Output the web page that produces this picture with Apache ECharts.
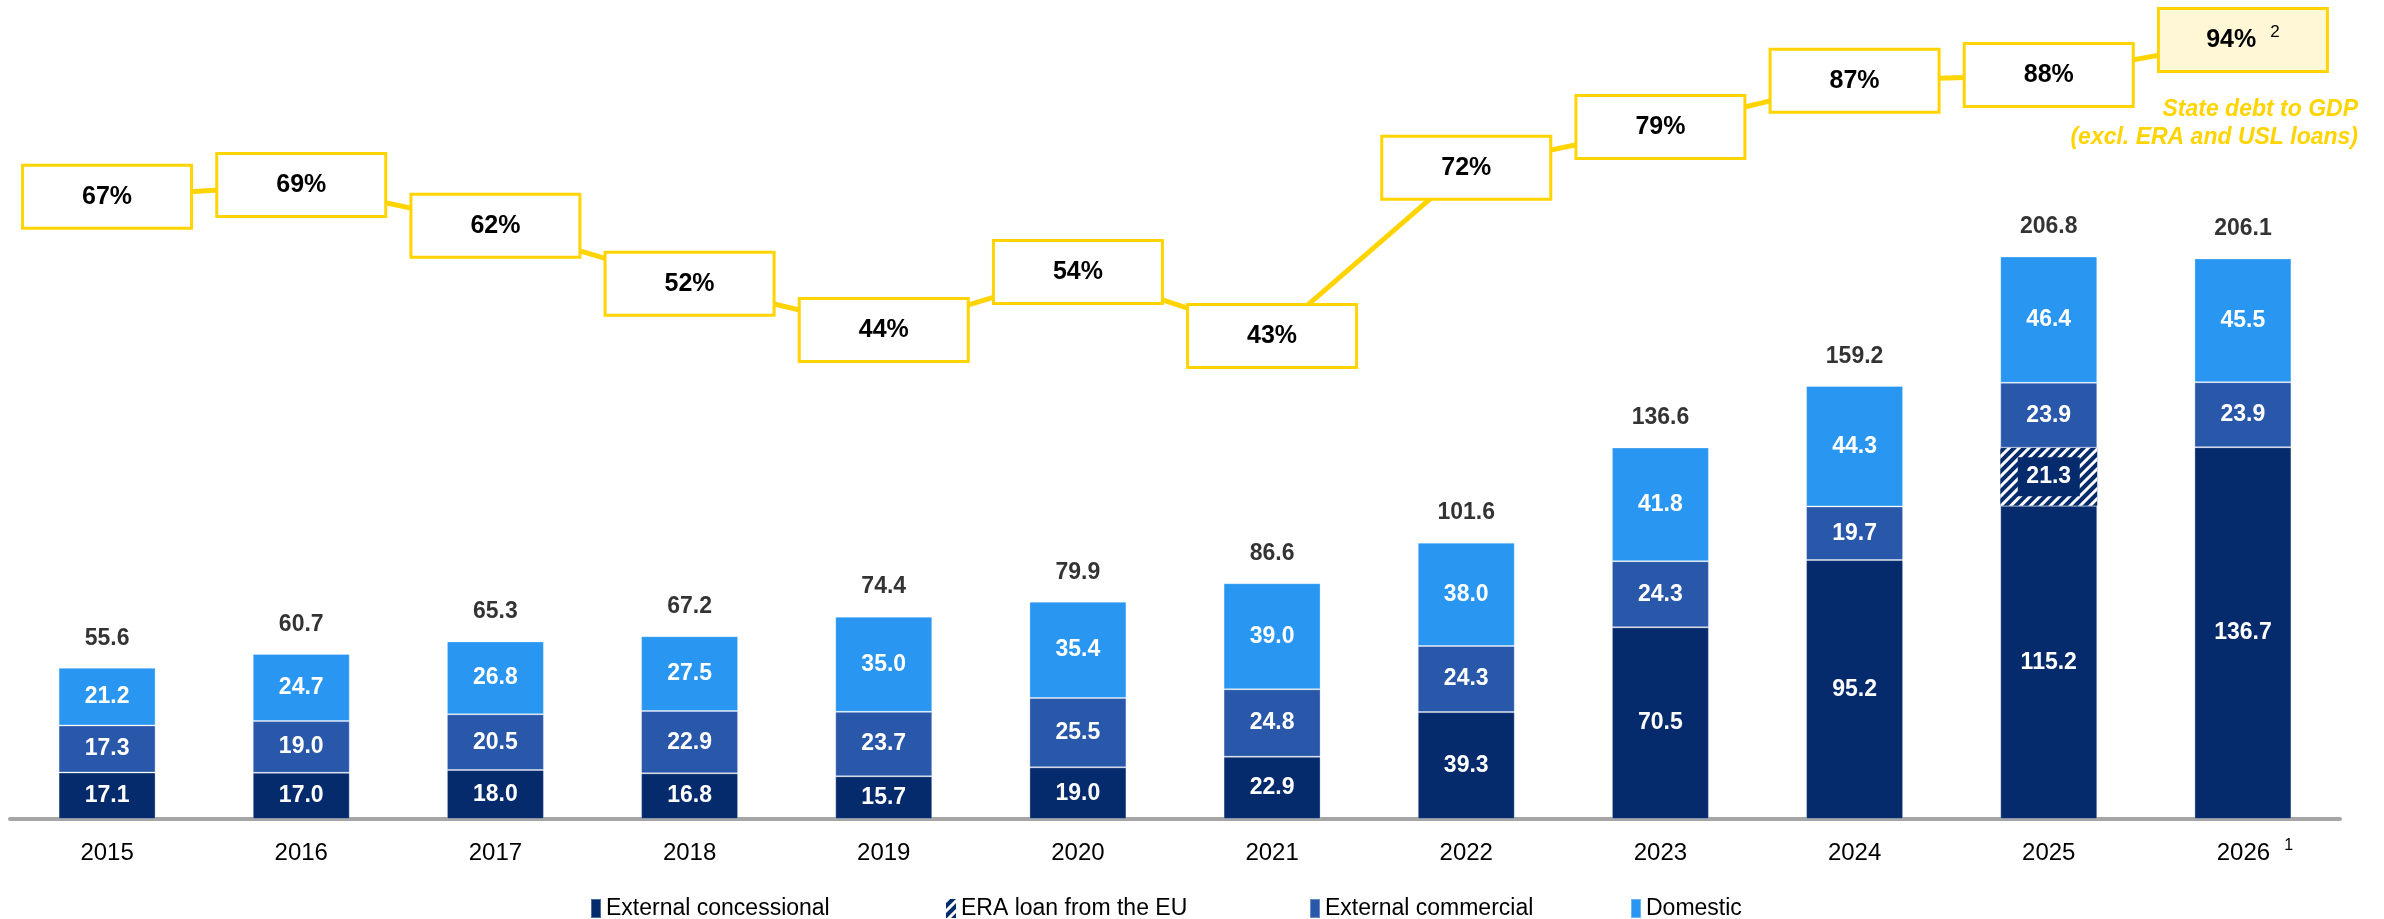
<!DOCTYPE html>
<html>
<head>
<meta charset="utf-8">
<script src="https://cdn.jsdelivr.net/npm/echarts@6/dist/echarts.min.js"></script>
<style>
  html, body { margin: 0; padding: 0; background: #ffffff; }
  #chart { width: 2384px; height: 919px; }
</style>
</head>
<body>
<div id="chart"></div>
<script>
// Public debt structure by year (values, bn) and state debt to GDP ratio (%)
const years = ['2015', '2016', '2017', '2018', '2019', '2020', '2021', '2022', '2023', '2024', '2025', '2026'];
const externalConcessional = [17.1, 17.0, 18.0, 16.8, 15.7, 19.0, 22.9, 39.3, 70.5, 95.2, 115.2, 136.7];
const eraLoan = [null, null, null, null, null, null, null, null, null, null, 21.3, null];
const externalCommercial = [17.3, 19.0, 20.5, 22.9, 23.7, 25.5, 24.8, 24.3, 24.3, 19.7, 23.9, 23.9];
const domestic = [21.2, 24.7, 26.8, 27.5, 35.0, 35.4, 39.0, 38.0, 41.8, 44.3, 46.4, 45.5];
const totals = [55.6, 60.7, 65.3, 67.2, 74.4, 79.9, 86.6, 101.6, 136.6, 159.2, 206.8, 206.1];
const debtToGdp = [67, 69, 62, 52, 44, 54, 43, 72, 79, 87, 88, 94];

// Footnote markers
const yearNotes = { '2026': '1' };
const ratioNotes = { 11: '2' };

const seriesNames = ['External concessional', 'ERA loan from the EU', 'External commercial', 'Domestic'];
const ratioTitle = ['State debt to GDP', '(excl. ERA and USL loans)'];

const FONT = '"Liberation Sans", Arial, sans-serif';
const NAVY = '#062b6d';
const MID = '#2957a9';
const LIGHT = '#2997f1';
const GOLD = '#ffd400';

const chart = echarts.init(document.getElementById('chart'), null, { renderer: 'canvas' });

const valueLabel = {
  show: true,
  position: 'inside',
  color: '#ffffff',
  fontFamily: FONT,
  fontWeight: 'bold',
  fontSize: 23,
  formatter: p => p.value == null ? '' : p.value.toFixed(1)
};

function barSeries(name, data, color, extra) {
  return Object.assign({
    name: name,
    type: 'bar',
    stack: 'debt',
    barWidth: 97,
    data: data,
    itemStyle: { color: color, borderColor: 'rgba(255,255,255,0.3)', borderWidth: 1 },
    label: valueLabel,
    emphasis: { disabled: true }
  }, extra || {});
}

const ratioBox = {
  width: 166,
  lineHeight: 24,
  padding: [18, 0, 18, 0],
  align: 'center',
  backgroundColor: '#ffffff',
  borderColor: GOLD,
  borderWidth: 3
};

const ratioData = debtToGdp.map((v, i) => {
  const item = { value: v };
  if (ratioNotes[i]) {
    item.label = {
      backgroundColor: '#fff7d6',
      formatter: '{v|' + v + '%}{sup|' + ratioNotes[i] + '}',
      rich: {
        v: { fontFamily: FONT, fontWeight: 'bold', fontSize: 25, color: '#000', lineHeight: 32, align: 'center' },
        sup: { fontFamily: FONT, fontWeight: 'normal', fontSize: 17, color: '#000', verticalAlign: 'top', lineHeight: 17, align: 'center', padding: [0, 0, 0, 14] }
      },
      padding: [14, 0, 14, 0],
      lineHeight: 32
    };
  }
  return item;
});

const option = {
  animation: false,
  backgroundColor: '#ffffff',
  grid: { left: 10, right: 44, top: 3, bottom: 100, containLabel: false },
  xAxis: {
    type: 'category',
    data: years,
    axisTick: { show: false },
    axisLine: { lineStyle: { color: '#a6a6a6', width: 4 } },
    axisLabel: {
      interval: 0,
      margin: 19,
      color: '#000000',
      fontFamily: FONT,
      fontSize: 24,
      formatter: y => yearNotes[y]
        ? '{yn|' + y + '}{sup|' + yearNotes[y] + '}'
        : '{y|' + y + '}',
      rich: {
        y: { fontFamily: FONT, fontSize: 24, color: '#000', lineHeight: 30 },
        yn: { fontFamily: FONT, fontSize: 24, color: '#000', lineHeight: 30, padding: [0, 0, 0, 24] },
        sup: { fontFamily: FONT, fontSize: 16, color: '#000', verticalAlign: 'top', lineHeight: 16, padding: [0, 0, 0, 14] }
      }
    }
  },
  yAxis: [
    { type: 'value', min: 0, max: 300, show: false, splitLine: { show: false } },
    { type: 'value', min: -40.3, max: 100.4, show: false, splitLine: { show: false } }
  ],
  legend: seriesNames.map((n, i) => ({
    data: [n],
    left: [585, 941, 1304, 1625][i],
    top: 892,
    icon: 'rect',
    itemWidth: 10,
    itemHeight: 19,
    itemGap: 6,
    selectedMode: false,
    textStyle: { fontFamily: FONT, fontSize: 23, color: '#000' }
  })),
  series: [
    barSeries(seriesNames[0], externalConcessional, NAVY),
    barSeries(seriesNames[1], eraLoan, NAVY, {
      itemStyle: {
        color: NAVY,
        borderWidth: 0,
        decal: {
          color: '#ffffff',
          symbol: 'rect',
          dashArrayX: [1, 0],
          dashArrayY: [3, 4],
          rotation: -Math.PI / 4
        }
      },
      label: Object.assign({}, valueLabel, {
        backgroundColor: NAVY,
        width: 62,
        align: 'center',
        padding: [8, 0, 8, 0]
      })
    }),
    barSeries(seriesNames[2], externalCommercial, MID),
    barSeries(seriesNames[3], domestic, LIGHT),
    {
      name: 'Total',
      type: 'scatter',
      data: totals,
      symbolSize: 0,
      z: 5,
      label: {
        show: true,
        position: 'top',
        distance: 18,
        color: '#000000',
        fontFamily: FONT,
        fontWeight: 'bold',
        fontSize: 23,
        formatter: p => p.value.toFixed(1)
      },
      emphasis: { disabled: true },
      tooltip: { show: false }
    },
    {
      name: 'State debt to GDP',
      type: 'line',
      yAxisIndex: 1,
      data: ratioData,
      z: 10,
      symbol: 'circle',
      symbolSize: 1,
      itemStyle: { color: GOLD },
      lineStyle: { color: GOLD, width: 5 },
      label: Object.assign({
        show: true,
        position: 'inside',
        color: '#000000',
        fontFamily: FONT,
        fontWeight: 'bold',
        fontSize: 25,
        formatter: p => p.value + '%'
      }, ratioBox),
      emphasis: { disabled: true }
    }
  ],
  graphic: ratioTitle.map((t, i) => ({
    type: 'text',
    right: 26,
    top: 98 + i * 28,
    style: {
      text: t,
      fill: GOLD,
      fontFamily: FONT,
      fontStyle: 'italic',
      fontWeight: 'bold',
      fontSize: 23
    }
  }))
};

chart.setOption(option);
</script>
</body>
</html>
